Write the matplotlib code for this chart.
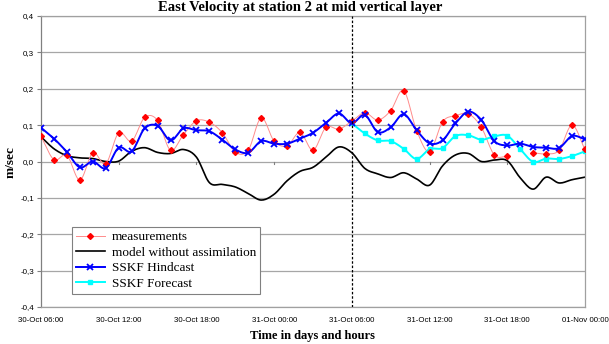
import numpy as np
import matplotlib
matplotlib.use('Agg')
import matplotlib.pyplot as plt
from matplotlib.lines import Line2D

# hourly values, 30-Oct 06:00 (hour 0) to 01-Nov 00:00 (hour 42)
hours = list(range(43))
measurements = [0.069, 0.005, 0.017, -0.051, 0.024, -0.006, 0.079, 0.056, 0.121, 0.113,
                0.031, 0.074, 0.112, 0.108, 0.079, 0.026, 0.031, 0.120, 0.056, 0.043,
                0.080, 0.031, 0.094, 0.089, 0.111, 0.134, 0.114, 0.140, 0.195, 0.085,
                0.027, 0.109, 0.126, 0.131, 0.094, 0.018, 0.014, np.nan, 0.024, 0.021,
                0.031, 0.100, 0.033]
model = [0.068, 0.035, 0.016, 0.010, 0.008, 0.000, 0.001, 0.028, 0.038, 0.025,
         0.022, 0.033, 0.012, -0.058, -0.063, -0.070, -0.088, -0.106, -0.090, -0.053,
         -0.027, -0.016, 0.012, 0.040, 0.024, -0.019, -0.034, -0.044, -0.031, -0.048,
         -0.065, -0.012, 0.018, 0.022, 0.000, 0.004, 0.002, -0.045, -0.076, -0.043,
         -0.059, -0.050, -0.043]
hindcast = [0.093, 0.063, 0.026, -0.016, 0.000, -0.018, 0.038, 0.028, 0.091, 0.098,
            0.058, 0.091, 0.086, 0.083, 0.060, 0.033, 0.024, 0.056, 0.049, 0.049,
            0.063, 0.079, 0.106, 0.132, 0.105, 0.128, 0.081, 0.094, 0.130, 0.086,
            0.050, 0.058, 0.105, 0.137, 0.114, 0.056, 0.044, 0.049, 0.040, 0.038,
            0.037, 0.070, 0.061]
forecast_hours = list(range(24, 43))
forecast = [0.105, 0.077, 0.058, 0.056, 0.035, 0.007, 0.034, 0.037, 0.070, 0.072,
            0.060, 0.069, 0.071, 0.034, -0.001, 0.008, 0.007, 0.015, 0.028]

tick_hours = [0, 6, 12, 18, 24, 30, 36, 42]
tick_labels = ['30-Oct 06:00', '30-Oct 12:00', '30-Oct 18:00', '31-Oct 00:00',
               '31-Oct 06:00', '31-Oct 12:00', '31-Oct 18:00', '01-Nov 00:00']
y_ticks = [-0.4, -0.3, -0.2, -0.1, 0.0, 0.1, 0.2, 0.3, 0.4]
y_labels = ['-0,4', '-0,3', '-0,2', '-0,1', '0,0', '0,1', '0,2', '0,3', '0,4']
split_hour = 24


def smooth(x, y, n=12):
    # Catmull-Rom curve through the points, like Excel's smoothed lines
    x = np.asarray(x, float)
    y = np.asarray(y, float)
    if len(x) < 3:
        return x, y
    px = np.concatenate([[2 * x[0] - x[1]], x, [2 * x[-1] - x[-2]]])
    py = np.concatenate([[2 * y[0] - y[1]], y, [2 * y[-1] - y[-2]]])
    t = np.linspace(0, 1, n, endpoint=False)
    xs, ys = [], []
    for i in range(1, len(px) - 2):
        for p, out in ((px, xs), (py, ys)):
            p0, p1, p2, p3 = p[i - 1], p[i], p[i + 1], p[i + 2]
            out.append(0.5 * (2 * p1 + (-p0 + p2) * t
                              + (2 * p0 - 5 * p1 + 4 * p2 - p3) * t ** 2
                              + (-p0 + 3 * p1 - 3 * p2 + p3) * t ** 3))
    xs.append([x[-1]])
    ys.append([y[-1]])
    return np.concatenate(xs), np.concatenate(ys)


def segments(x, y):
    x = np.asarray(x, float)
    y = np.asarray(y, float)
    ok = ~np.isnan(y)
    segs, cur = [], []
    for i in range(len(x)):
        if ok[i]:
            cur.append(i)
        elif cur:
            segs.append(cur)
            cur = []
    if cur:
        segs.append(cur)
    return [(x[s], y[s]) for s in segs]


fig = plt.figure(figsize=(6.09, 3.44), dpi=100)
ax = fig.add_axes([41 / 609, 37 / 344, 544 / 609, 291 / 344])

grid_c = '#a6a6a6'
for v in y_ticks:
    ax.axhline(v, color=grid_c, lw=0.9, zorder=0)

# model line
mx, my = smooth(hours, model)
ax.plot(mx, my, color='black', lw=1.2, zorder=2)

# measurements (pink smooth line + red diamonds)
for sx, sy in segments(hours, measurements):
    cx, cy = smooth(sx, sy)
    ax.plot(cx, cy, color='#ff8c8c', lw=0.7, zorder=3)
ax.plot(hours, measurements, ls='none', marker='D', ms=3.0, color='#ff0000',
        mec='#ff0000', zorder=5)

# forecast
fx, fy = smooth(forecast_hours, forecast)
ax.plot(fx, fy, color='#00ffff', lw=1.4, zorder=3)
ax.plot(forecast_hours, forecast, ls='none', marker='s', ms=2.4, color='#00ffff', zorder=4)

# hindcast
hx, hy = smooth(hours, hindcast)
ax.plot(hx, hy, color='#0000ff', lw=1.4, zorder=4)
ax.plot(hours, hindcast, ls='none', marker='x', ms=4.2, mew=1.3, color='#0000ff', zorder=6)

ax.axvline(split_hour, color='black', lw=0.9, ls=(0, (2, 1.5)), zorder=7)

# small category ticks on the zero line
for h in tick_hours:
    ax.plot([h, h], [0, -0.008], color='#808080', lw=0.8, zorder=1)

ax.set_xlim(0, 42)
ax.set_ylim(-0.4, 0.4)
ax.set_xticks(tick_hours)
ax.set_xticklabels(tick_labels, fontsize=5.7, family='Liberation Sans')
ax.set_yticks(y_ticks)
ax.set_yticklabels(y_labels, fontsize=5.8, family='Liberation Sans')
ax.tick_params(axis='x', length=0, pad=7)
ax.tick_params(axis='y', length=3, color='#808080', pad=2)
for s in ax.spines.values():
    s.set_color('#a0a0a0')
    s.set_linewidth(0.9)
ax.spines['left'].set_color('#808080')

handles = [
    Line2D([], [], color='#ff8c8c', lw=0.7, marker='D', ms=3.0, mfc='#ff0000', mec='#ff0000'),
    Line2D([], [], color='black', lw=1.2),
    Line2D([], [], color='#0000ff', lw=1.4, marker='x', ms=4.2, mew=1.3),
    Line2D([], [], color='#00ffff', lw=1.4, marker='s', ms=2.4),
]
names = ['measurements', 'model without assimilation', 'SSKF Hindcast', 'SSKF Forecast']
leg = ax.legend(handles, names, loc='upper left', bbox_to_anchor=(31 / 544, 80 / 291),
                borderaxespad=0, fancybox=False, framealpha=1, edgecolor='#808080',
                prop={'family': 'Liberation Serif', 'size': 9.5}, handlelength=2.2,
                handletextpad=0.5, labelspacing=0.25, borderpad=0.3)
leg.get_frame().set_linewidth(0.8)
leg.set_zorder(10)

fig.text(300 / 609, 1 - 8 / 344, 'East Velocity at station 2 at mid vertical layer',
         ha='center', va='center', fontsize=10.5, fontweight='bold', family='Liberation Serif')
fig.text(312 / 609, 1 - 336 / 344, 'Time in days and hours', ha='center', va='center',
         fontsize=9, fontweight='bold', family='Liberation Serif')
fig.text(11 / 609, 1 - 162 / 344, 'm/sec', ha='center', va='center', rotation=90,
         fontsize=9.5, fontweight='bold', family='Liberation Serif')

fig.savefig('out.png', dpi=100)
